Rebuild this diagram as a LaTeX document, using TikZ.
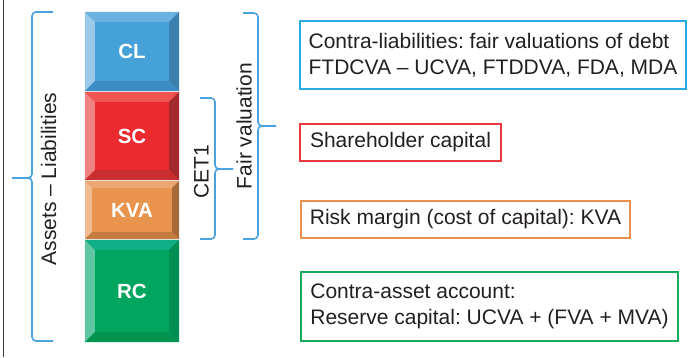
\documentclass[tikz,border=0pt]{standalone}
\usepackage{fontspec}
\setmainfont{Liberation Sans}
\frenchspacing
\definecolor{textc}{HTML}{231F20}
\definecolor{bracec}{HTML}{4AA3DF}
\definecolor{framec}{HTML}{3A3A3A}
% bar colours
\definecolor{clm}{HTML}{45A1D8}\definecolor{clt}{HTML}{6BB2E0}\definecolor{cll}{HTML}{9AC9EA}\definecolor{clr}{HTML}{3A7FAE}\definecolor{clb}{HTML}{3B8DC3}
\definecolor{scm}{HTML}{EB2A30}\definecolor{sct}{HTML}{EE5452}\definecolor{scl}{HTML}{F08282}\definecolor{scr}{HTML}{A52A2C}\definecolor{scb}{HTML}{C92F31}
\definecolor{kvm}{HTML}{E8944F}\definecolor{kvt}{HTML}{EBA673}\definecolor{kvl}{HTML}{F1BB92}\definecolor{kvr}{HTML}{A76B39}\definecolor{kvb}{HTML}{C57C3F}
\definecolor{rcm}{HTML}{00A55E}\definecolor{rct}{HTML}{0FAE86}\definecolor{rcl}{HTML}{5FC5A3}\definecolor{rcr}{HTML}{008E51}\definecolor{rcb}{HTML}{03944F}
% box colours
\definecolor{boxblue}{HTML}{29AAE1}
\definecolor{boxred}{HTML}{E8373D}
\definecolor{boxorange}{HTML}{E8904E}
\definecolor{boxgreen}{HTML}{18A95A}
% #1 node, #2 bevel size, #3 top, #4 left, #5 right, #6 bottom
\newcommand\mybevel[6]{%
  \fill[#3] (#1.north west) -- (#1.north east) -- ([shift={(-#2,#2)}]#1.north east) -- ([shift={(#2,#2)}]#1.north west) -- cycle;
  \fill[#4] (#1.north west) -- ([shift={(#2,#2)}]#1.north west) -- ([shift={(#2,-#2)}]#1.south west) -- (#1.south west) -- cycle;
  \fill[#5] (#1.north east) -- ([shift={(-#2,#2)}]#1.north east) -- ([shift={(-#2,-#2)}]#1.south east) -- (#1.south east) -- cycle;
  \fill[#6] (#1.south west) -- ([shift={(#2,-#2)}]#1.south west) -- ([shift={(-#2,-#2)}]#1.south east) -- (#1.south east) -- cycle;
}
\begin{document}
\begin{tikzpicture}[x=1pt,y=-1pt,
  txt/.style={text=textc, font=\fontsize{21}{26}\selectfont\frenchspacing},
  barnode/.style={minimum width=94, minimum height=#1, inner sep=0pt, text=white, font=\bfseries\fontsize{20.5}{24}\selectfont},
  infobox/.style={draw=#1, line width=1.5pt, txt, align=left, inner sep=0pt},
  brace/.style={draw=bracec, line width=1.6pt, rounded corners=4pt}
]
\useasboundingbox (0,0) rectangle (692,357);
\draw[framec, line width=1.5pt] (3.5,0) -- (3.5,357);

% bars
\node[barnode=79, fill=clm]  (CL)  at (132,51.5) {};
\node[barnode=88, fill=scm]  (SC)  at (132,136)  {};
\node[barnode=58, fill=kvm]  (KVA) at (132,210)  {};
\node[barnode=102, fill=rcm] (RC)  at (132,291)  {};
\mybevel{CL}{10}{clt}{cll}{clr}{clb}
\mybevel{SC}{10}{sct}{scl}{scr}{scb}
\mybevel{KVA}{7}{kvt}{kvl}{kvr}{kvb}
\mybevel{RC}{10}{rct}{rcl}{rcr}{rcb}
\node[barnode=79, text=white]  (CLt)  at (CL)  {CL};
\node[barnode=88, text=white]  (SCt)  at (SC)  {SC};
\node[barnode=58, text=white]  (KVAt) at (KVA) {KVA};
\node[barnode=102, text=white] (RCt)  at (RC)  {RC};

% braces
\draw[brace] (53,12) -- (32,12) -- (32,178) -- (12,178);
\draw[brace] (12,178) -- (32,178) -- (32,341) -- (53,341);
\node[txt, rotate=90] (AL) at (48.5,179) {Assets -- Liabilities};

\draw[brace] (200,98) -- (215,98) -- (215,169) -- (233,169);
\draw[brace] (233,169) -- (215,169) -- (215,239) -- (200,239);
\node[txt, rotate=90] (CET) at (201.5,172) {CET1};

\draw[brace] (243,13) -- (258,13) -- (258,126) -- (276,126);
\draw[brace] (276,126) -- (258,126) -- (258,239) -- (243,239);
\node[txt, rotate=90] (FV) at (244,126) {Fair valuation};

% info boxes
\node[infobox=boxblue, minimum width=386, minimum height=68] (B1) at (493,55)
  {Contra-liabilities: fair valuations of debt\\FTDCVA -- UCVA, FTDDVA, FDA, MDA};
\node[infobox=boxred, minimum width=201, minimum height=37] (B2) at (400.5,142.5)
  {Shareholder capital};
\node[infobox=boxorange, minimum width=329, minimum height=37] (B3) at (465.5,219.5)
  {Risk margin (cost of capital): KVA};
\node[infobox=boxgreen, minimum width=377, minimum height=69] (B4) at (489.5,306.5)
  {Contra-asset account:\\Reserve capital: UCVA + (FVA + MVA)};
\end{tikzpicture}
\end{document}
